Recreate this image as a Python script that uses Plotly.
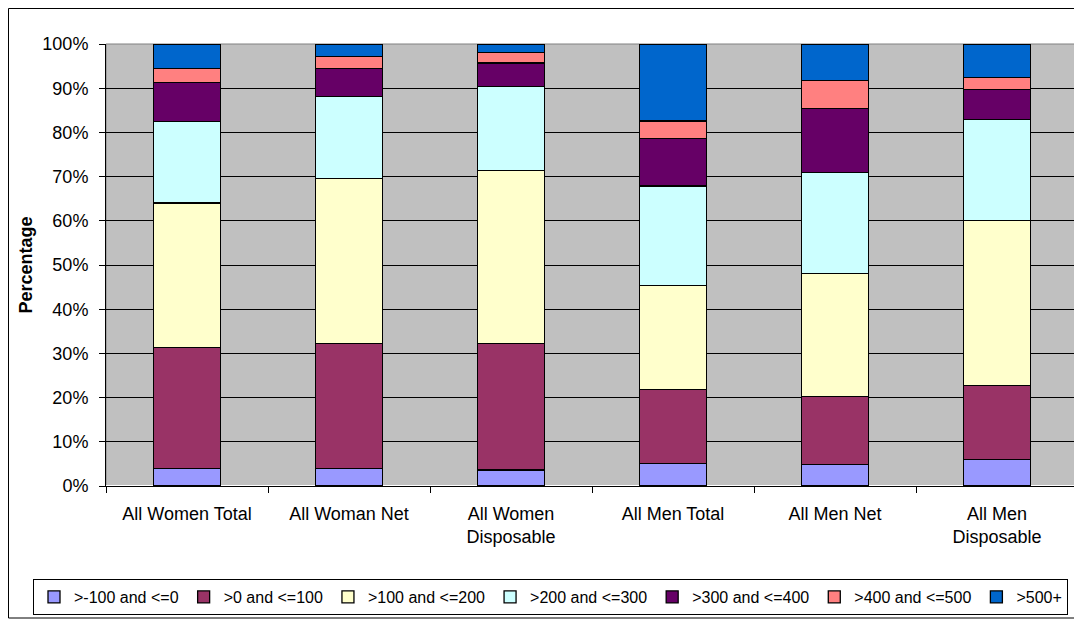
import plotly.graph_objects as go

categories = ["All Women Total", "All Woman Net", "All Women<br>Disposable",
              "All Men Total", "All Men Net", "All Men<br>Disposable"]
series_names = [">-100 and <=0", ">0 and <=100", ">100 and <=200", ">200 and <=300",
                ">300 and <=400", ">400 and <=500", ">500+"]
s1 = [3.9, 3.9, 3.6, 5.1, 4.8, 6.0]
s2 = [27.5, 28.3, 28.7, 16.8, 15.4, 16.7]
s3 = [32.6, 37.3, 39.1, 23.4, 27.9, 37.3]
s4 = [18.5, 18.7, 19.0, 22.6, 22.8, 22.9]
s5 = [8.8, 6.3, 5.3, 10.8, 14.5, 6.8]
s6 = [3.2, 2.7, 2.4, 3.9, 6.3, 2.8]
s7 = [5.5, 2.8, 1.9, 17.4, 8.3, 7.5]
colors = ["#9999FF", "#993366", "#FFFFCC", "#CCFFFF", "#660066", "#FF8080", "#0066CC"]
yticks = [0, 10, 20, 30, 40, 50, 60, 70, 80, 90, 100]

fig = go.Figure()
for name, vals, col in zip(series_names, [s1, s2, s3, s4, s5, s6, s7], colors):
    fig.add_trace(go.Bar(x=categories, y=vals, name=name,
                         marker=dict(color=col, line=dict(color="black", width=1.3))))

FONT = "Liberation Sans, Arial, sans-serif"
OFF = 8  # page body margin offset
W, H = 1082 - OFF, 619 - OFF
L, T = 106 - OFF, 44 - OFF
PW, PH = 972, 442
R, B = W - L - PW, H - T - PH


def px_x(x):
    return (x - OFF - L) / PW


def px_y(y):
    return (T + PH - (y - OFF)) / PH


fig.update_layout(
    barmode="stack", bargap=0.59,
    width=W, height=H,
    margin=dict(l=L, r=R, t=T, b=B, autoexpand=False),
    paper_bgcolor="white", plot_bgcolor="#C0C0C0",
    font=dict(family=FONT, size=18, color="black"),
    showlegend=True,
    legend=dict(orientation="h", x=px_x(33), xanchor="left",
                y=px_y(579), yanchor="top",
                bordercolor="black", borderwidth=1,
                font=dict(size=16),
                itemwidth=30, traceorder="normal", tracegroupgap=0),
    xaxis=dict(showgrid=False, ticks="outside", tickson="boundaries", ticklen=6,
               tickcolor="black", showline=True, linecolor="black", linewidth=1,
               tickfont=dict(size=18), ticklabelstandoff=11),
    yaxis=dict(range=[0, 100], tickvals=yticks, ticktext=[f"{v}%" for v in yticks],
               showgrid=True, gridcolor="black", gridwidth=1,
               ticks="outside", ticklen=6, tickcolor="black",
               showline=True, linecolor="black", linewidth=1,
               ticklabelstandoff=7,
               title=dict(text="<b>Percentage</b>", font=dict(size=18), standoff=5),
               tickfont=dict(size=18)),
    shapes=[
        dict(type="rect", xref="paper", yref="paper", x0=0, x1=1, y0=0, y1=1,
             line=dict(color="#808080", width=1), layer="below"),
        dict(type="rect", xref="paper", yref="paper",
             x0=px_x(8.5), x1=px_x(1080.5),
             y0=px_y(618), y1=px_y(8.5),
             line=dict(color="black", width=1)),
    ],
)
fig.write_html("out.html")
